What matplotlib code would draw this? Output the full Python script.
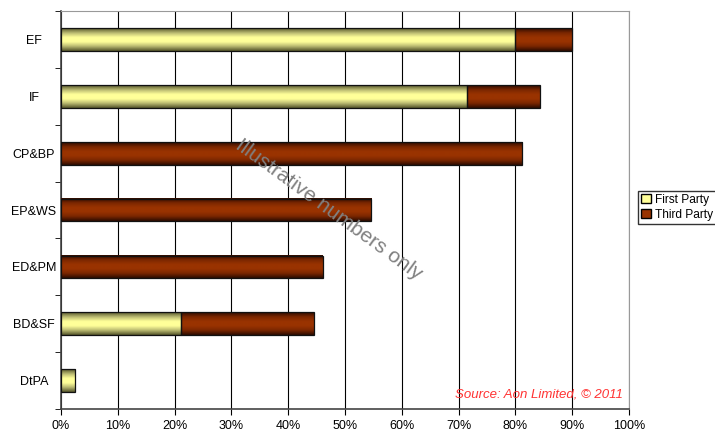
import numpy as np
import matplotlib
matplotlib.use("Agg")
import matplotlib.pyplot as plt
from matplotlib.colors import LinearSegmentedColormap
from matplotlib.patches import Patch

plt.rcParams['font.family'] = ['Liberation Sans', 'DejaVu Sans']

categories = ["EF", "IF", "CP&BP", "EP&WS", "ED&PM", "BD&SF", "DtPA"]
first_party = [0.80, 0.715, 0.0, 0.0, 0.0, 0.211, 0.025]
third_party = [0.10, 0.128, 0.812, 0.546, 0.461, 0.234, 0.0]
xticks = np.arange(0, 1.01, 0.1)
xticklabels = ["0%", "10%", "20%", "30%", "40%", "50%", "60%", "70%", "80%", "90%", "100%"]

first_cmap = LinearSegmentedColormap.from_list("fp", ["#55552a", "#b8b870", "#ffff99", "#ffff99", "#b8b870", "#55552a"])
third_cmap = LinearSegmentedColormap.from_list("tp", ["#2e0c00", "#7a2600", "#993300", "#993300", "#7a2600", "#2e0c00"])
grad = np.linspace(0, 1, 64).reshape(-1, 1)

fig = plt.figure(figsize=(7.15, 4.32), dpi=100)
ax = fig.add_axes([0.0853, 0.053, 0.7944, 0.9215])

n = len(categories)
ypos = np.arange(n)[::-1]
h = 0.4


def grad_bar(ax, left, width, y, cmap):
    if width <= 0:
        return
    ax.imshow(grad, cmap=cmap, aspect="auto", interpolation="bilinear",
              extent=[left, left + width, y - h / 2, y + h / 2], zorder=3)
    ax.add_patch(plt.Rectangle((left, y - h / 2), width, h, fill=False,
                               edgecolor="#111111", lw=0.9, zorder=4))


for y, fp, tp in zip(ypos, first_party, third_party):
    grad_bar(ax, 0, fp, y, first_cmap)
    grad_bar(ax, fp, tp, y, third_cmap)

ax.set_xlim(0, 1)
ax.set_ylim(-0.5, n - 0.5)
ax.set_xticks(xticks)
ax.set_xticklabels(xticklabels, fontsize=9)
ax.set_yticks(ypos)
ax.set_yticklabels(categories, fontsize=9, ha="center")
ax.set_yticks(np.arange(-0.5, n, 1.0), minor=True)
ax.tick_params(axis="y", which="major", length=0, pad=19.5)
ax.tick_params(axis="y", which="minor", length=4, direction="out", color="black")
ax.tick_params(axis="x", length=4, direction="out")
ax.grid(axis="x", color="black", lw=0.8, zorder=1)
ax.set_axisbelow(True)
for s in ["top", "right"]:
    ax.spines[s].set_color("#999999")
for s in ["left", "bottom"]:
    ax.spines[s].set_color("#444444")
    ax.spines[s].set_linewidth(1.2)

ax.text(0.472, 0.50, "Illustrative numbers only", transform=ax.transAxes,
        rotation=-36, fontsize=15, color="#808080", ha="center", va="center",
        zorder=5)
ax.text(0.99, 0.022, "Source: Aon Limited, \u00a9 2011", transform=ax.transAxes,
        fontsize=9.5, color="#ff3333", style="italic", ha="right", va="bottom", zorder=5)

handles = [Patch(facecolor="#ffff99", edgecolor="black", label="First Party"),
           Patch(facecolor="#993300", edgecolor="black", label="Third Party")]
fig.legend(handles=handles, loc="upper left", bbox_to_anchor=(0.893, 0.558),
           fontsize=8.6, frameon=True, fancybox=False, edgecolor="black",
           handlelength=0.8, handleheight=0.8, handletextpad=0.3,
           borderpad=0.25, labelspacing=0.25, borderaxespad=0)

fig.savefig("out.png", dpi=100)
